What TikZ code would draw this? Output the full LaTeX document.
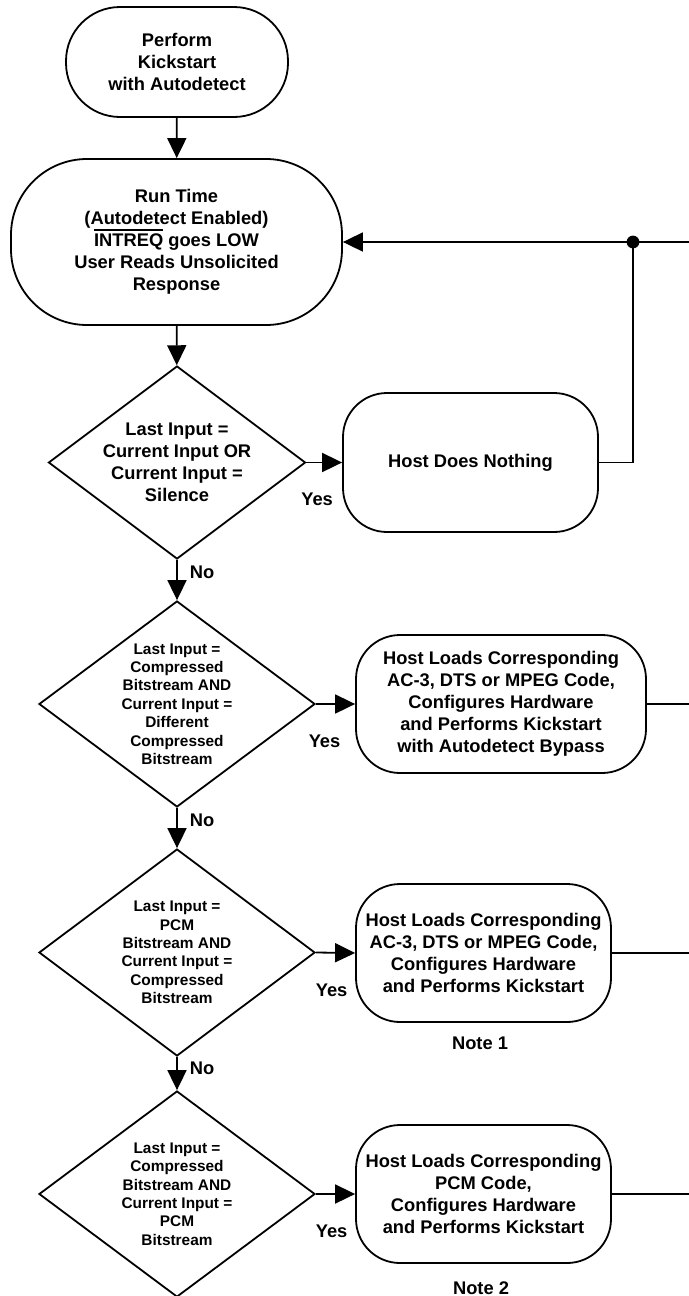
\documentclass[tikz,border=0pt]{standalone}
\usepackage{fontspec}
\setmainfont{Liberation Sans}
\usetikzlibrary{shapes.geometric,arrows.meta}

\newcommand{\bigtxt}{\fontsize{9.15}{11}\selectfont\bfseries}
\newcommand{\smalltxt}{\fontsize{7.7}{9.2}\selectfont\bfseries}
% bar over an active-low signal name
\newcommand{\lowsig}[1]{\setbox0=\hbox{#1}\rlap{\rule[\dimexpr\ht0+1.5pt\relax]{\wd0}{0.9pt}}\box0\relax}

\begin{document}
\begin{tikzpicture}[x=0.5pt, y=-0.5pt,
        every node/.style={font=\bigtxt, align=center},
        term/.style={draw, line width=0.9pt, rounded corners=#1, inner sep=0pt},
        decision/.style={draw, diamond, line width=0.9pt, inner sep=0pt},
        flow/.style={line width=0.9pt, -{Triangle[length=10pt,width=9.5pt]}},
        wire/.style={line width=0.9pt},
        lbl/.style={inner sep=0pt}]
            \useasboundingbox (0,0) rectangle (689,1296);
            \clip (0,0) rectangle (689,1296);

            % Start and run time boxes
            \node[term=27pt, minimum width=111pt, minimum height=55pt] (start) at (177,62)
                {Perform\\Kickstart\\with Autodetect};
            \node[term=38pt, minimum width=165.5pt, minimum height=83pt] (run) at (176.5,242)
                {Run Time\\(Autodetect Enabled)\\\lowsig{INTREQ} goes LOW\\User Reads Unsolicited\\Response};

            % Decisions, empty diamonds with the question on top
            \node[decision, minimum width=128.5pt, minimum height=96.5pt] (q1) at (177,462.5) {};
            \node (q1txt) at (q1) {Last Input =\\Current Input OR\\Current Input =\\Silence};
            \node[decision, minimum width=138pt, minimum height=103pt] (q2) at (177,704) {};
            \node[font=\smalltxt] (q2txt) at (q2)
                {Last Input =\\Compressed\\Bitstream AND\\Current Input =\\Different\\Compressed\\Bitstream};
            \node[decision, minimum width=138pt, minimum height=103.5pt] (q3) at (177,952.5) {};
            \node[font=\smalltxt] (q3txt) at (q3)
                {Last Input =\\PCM\\Bitstream AND\\Current Input =\\Compressed\\Bitstream};
            \node[decision, minimum width=138pt, minimum height=103pt] (q4) at (177,1194) {};
            \node[font=\smalltxt] (q4txt) at (q4)
                {Last Input =\\Compressed\\Bitstream AND\\Current Input =\\PCM\\Bitstream};

            % Host actions
            \node[term=22pt, minimum width=127.5pt, minimum height=69.5pt] (nothing) at (470.5,462.5)
                {Host Does Nothing};
            \node[term=22pt, minimum width=145pt, minimum height=69pt] (loadsA) at (501,704)
                {Host Loads Corresponding\\AC-3, DTS or MPEG Code,\\Configures Hardware\\and Performs Kickstart\\with Autodetect Bypass};
            \node[term=22pt, minimum width=127.5pt, minimum height=69pt] (loadsB) at (483.5,953)
                {Host Loads Corresponding\\AC-3, DTS or MPEG Code,\\Configures Hardware\\and Performs Kickstart};
            \node[term=22pt, minimum width=127.5pt, minimum height=69pt] (loadsC) at (483.5,1194)
                {Host Loads Corresponding\\PCM Code,\\Configures Hardware\\and Performs Kickstart};
            \node (note1) at (480,1043) {Note 1};
            \node (note2) at (481,1288) {Note 2};

            % Loop back on the right
            \coordinate (loop) at (633,242);
            \coordinate (backR) at (689,242);
            \coordinate (outA) at (689,704);
            \coordinate (outB) at (689,953);
            \coordinate (outC) at (689,1194);

            % Main column
            \draw[flow] (start) -- (run);
            \draw[flow] (run) -- (q1);
            \draw[flow] (q1) -- node[lbl, pos=0.3, right=6pt] {No} (q2);
            \draw[flow] (q2) -- node[lbl, pos=0.3, right=6pt] {No} (q3);
            \draw[flow] (q3) -- node[lbl, pos=0.33, right=6pt] {No} (q4);

            % Yes branches
            \draw[flow] (q1.east) -- node[lbl, pos=0.3, below=15pt] {Yes} (nothing.west);
            \draw[flow] (q2.east) -- node[lbl, pos=0.22, below=15pt] {Yes} (loadsA.west);
            \draw[flow] (q3.east) -- node[lbl, pos=0.4, below=15pt] {Yes} (loadsB.west);
            \draw[flow] (q4.east) -- node[lbl, pos=0.4, below=15pt] {Yes} (loadsC.west);

            % Returns
            \draw[wire] (nothing.east) -| (loop);
            \fill (loop) circle (3.2pt);
            \draw[flow] (backR) -- (run.east);
            \draw[wire] (loadsA.east) -- (outA);
            \draw[wire] (loadsB.east) -- (outB);
            \draw[wire] (loadsC.east) -- (outC);
        \end{tikzpicture}
\end{document}
